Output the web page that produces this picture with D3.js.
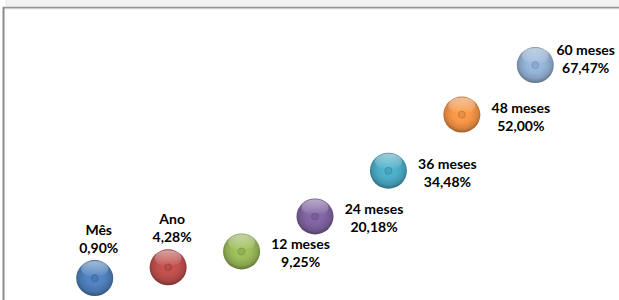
<!DOCTYPE html>
<html>
<head>
<meta charset="utf-8">
<script src="https://cdn.jsdelivr.net/npm/d3@7"></script>
<style>
  body { margin: 0; background: #fff; overflow: hidden; }
  svg { display: block; }
  .lbl { font-family: Lato, "Open Sans", "Liberation Sans", Arial, sans-serif; font-weight: bold; font-size: 14px; fill: #000; }
</style>
</head>
<body>
<div id="chart"></div>
<script>
// ---------------- data ----------------
var categories = ["Mês", "Ano", "12 meses", "24 meses", "36 meses", "48 meses", "60 meses"];
var values = [0.90, 4.28, 9.25, 20.18, 34.48, 52.00, 67.47];
var colors = ["#4f81bd", "#c0504d", "#9bbb59", "#8064a2", "#4bacc6", "#f79646", "#95b3d7"];
var labelAbove = ["Mês", "Ano"];   // these two get their label on top of the marker

var WIDTH = 619, HEIGHT = 300;
var MARKER_R = 18;

var svg = d3.select("#chart").append("svg")
    .attr("width", WIDTH)
    .attr("height", HEIGHT);

// ---------------- frame (chart area cut off at the top) ----------------
svg.append("rect")
    .attr("x", 5).attr("y", 0)
    .attr("width", WIDTH).attr("height", 7)
    .style("fill", "#f2f2f2");

// title sits above the visible window, only its lowest pixels show
svg.append("text")
    .text("Rentabilidade Acumulada")
    .attr("x", 318)
    .attr("y", 0)
    .style("text-anchor", "middle")
    .style("font-family", "Liberation Sans, Arial, sans-serif")
    .style("font-weight", "bold")
    .style("font-size", "16px")
    .style("fill", "#888");

svg.append("line")
    .attr("x1", 3).attr("x2", WIDTH)
    .attr("y1", 7.5).attr("y2", 7.5)
    .style("stroke", "#969696").style("stroke-width", 1.5);
svg.append("line")
    .attr("x1", 4).attr("x2", WIDTH)
    .attr("y1", 8.7).attr("y2", 8.7)
    .style("stroke", "#c8c8c8").style("stroke-width", 1);
svg.append("line")
    .attr("x1", 3.5).attr("x2", 3.5)
    .attr("y1", 7).attr("y2", HEIGHT)
    .style("stroke", "#8c8c8c").style("stroke-width", 2);

// ---------------- scales ----------------
var plot = {left: 58, right: 572, top: 25, bottom: 281};

var x = d3.scalePoint()
    .domain(categories)
    .range([plot.left, plot.right])
    .padding(0.5);

var y = d3.scaleLinear()
    .domain([0, 80])
    .range([plot.bottom, plot.top]);

var ptBR = d3.formatLocale({decimal: ",", thousands: ".", grouping: [3], currency: ["R$", ""]});
var fmt = ptBR.format(".2f");

// ---------------- marker gradients ----------------
var defs = svg.append("defs");
colors.forEach(function(c, i){
    var base = d3.color(c);
    var g = defs.append("radialGradient")
        .attr("id", "ball" + i)
        .attr("cx", "50%").attr("cy", "45%").attr("r", "55%");
    g.append("stop").attr("offset", "0%").attr("stop-color", base.brighter(0.2));
    g.append("stop").attr("offset", "50%").attr("stop-color", base);
    g.append("stop").attr("offset", "80%").attr("stop-color", base.darker(0.4));
    g.append("stop").attr("offset", "100%").attr("stop-color", base.darker(1.3));
});
var hl = defs.append("linearGradient")
    .attr("id", "shine")
    .attr("x1", 0).attr("y1", 0).attr("x2", 0).attr("y2", 1);
hl.append("stop").attr("offset", "0%").attr("stop-color", "#fff").attr("stop-opacity", 0.5);
hl.append("stop").attr("offset", "100%").attr("stop-color", "#fff").attr("stop-opacity", 0);

// ---------------- markers ----------------
var data = categories.map(function(c, i){ return {name: c, value: values[i], i: i}; });

var pts = svg.append("g").attr("id", "points")
    .selectAll("g")
    .data(data)
    .enter()
    .append("g")
    .attr("transform", function(d){ return "translate(" + x(d.name) + "," + y(d.value) + ")"; });

pts.append("ellipse")
    .attr("rx", MARKER_R + 0.5).attr("ry", MARKER_R)
    .style("fill", function(d){ return "url(#ball" + d.i + ")"; });

pts.append("ellipse")
    .attr("cy", -MARKER_R * 0.5)
    .attr("rx", MARKER_R * 0.75).attr("ry", MARKER_R * 0.45)
    .style("fill", "url(#shine)");

pts.append("circle")
    .attr("r", 3.5)
    .style("fill", function(d){ return d3.color(colors[d.i]).darker(0.15); })
    .style("stroke", function(d){ return d3.color(colors[d.i]).darker(1); })
    .style("stroke-opacity", 0.5)
    .style("stroke-width", 1);

// ---------------- labels ----------------
var labels = svg.append("g").attr("id", "labels");
data.forEach(function(d, i){
    var cx = x(d.name), cy = y(d.value);
    var above = labelAbove.indexOf(d.name) != -1;
    var t = labels.append("text").attr("class", "lbl").style("text-anchor", "middle");
    var l1 = t.append("tspan").text(d.name);
    var l2 = t.append("tspan").text(fmt(d.value) + "%");

    var tx, y1;
    if (above){
        tx = cx + 4;
        y1 = cy - 43;
    } else {
        tx = cx + 59;
        y1 = cy - 2;
    }
    // keep label inside the chart area (excel pulls the last one in)
    var w = Math.max(l1.node().getComputedTextLength(), l2.node().getComputedTextLength());
    if (tx + w / 2 > WIDTH - 4){
        tx = WIDTH - 4 - w / 2;
        y1 -= 8;
    }
    l1.attr("x", tx).attr("y", y1);
    l2.attr("x", tx).attr("y", y1 + 18);
});
</script>
</body>
</html>
